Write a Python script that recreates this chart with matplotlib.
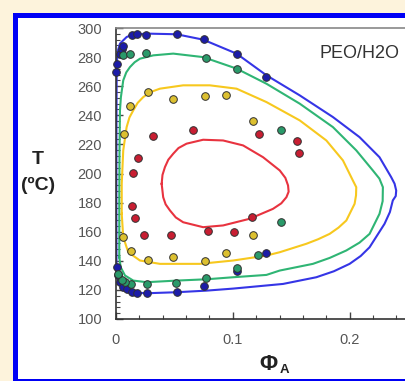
import matplotlib
matplotlib.use('Agg')
import matplotlib.pyplot as plt
from matplotlib.patches import Rectangle
from matplotlib.ticker import MultipleLocator

# binodal curves (phi_A, T), traced around each closed loop
blue_curve_x = [0.002, 0.0004, 0.0003, 0.0004, 0.0006, 0.0017, 0.0034, 0.0091, 0.0148, 0.0291, 0.0519,
                0.0746, 0.1032, 0.1288, 0.1573, 0.1857, 0.2085, 0.2256, 0.2356, 0.2385, 0.2399, 0.2395,
                0.237, 0.2345, 0.2299, 0.2171, 0.2095, 0.2, 0.1865, 0.1715, 0.143, 0.1003, 0.0775,
                0.0519, 0.0262, 0.0148, 0.0062, 0.002]
blue_curve_T = [126.4, 138.1, 181.5, 236.5, 275.5, 284.7, 289.3, 293.8, 295.7, 296.1, 295.7,
                292.0, 282.4, 267.5, 253.7, 238.8, 225.0, 211.2, 197.5, 193.0, 188.3, 184.5,
                181.5, 173.5, 165.4, 149.3, 143.3, 137.9, 132.8, 128.7, 124.1, 120.9, 119.5,
                118.4, 117.7, 118.2, 120.7, 126.4]

green_curve_x = [0.0028, 0.0028, 0.003, 0.0034, 0.0042, 0.0062, 0.0088, 0.012, 0.016, 0.0205, 0.0319,
                 0.049, 0.0746, 0.1032, 0.1288, 0.1573, 0.1857, 0.2057, 0.2199, 0.2255, 0.2285,
                 0.2283, 0.2256, 0.2171, 0.2085, 0.1972, 0.183, 0.1686, 0.1402, 0.1288, 0.1003,
                 0.0775, 0.0519, 0.0262, 0.0148, 0.0077, 0.004, 0.0028]
green_curve_T = [142.4, 181.5, 215.9, 243.4, 252.5, 264.0, 269.5, 273.2, 276.5, 278.9, 281.2,
                 282.4, 280.0, 272.1, 261.7, 248.0, 231.9, 215.9, 202.1, 196.5, 190.6,
                 181.0, 172.3, 158.5, 152.5, 147.1, 142.0, 137.9, 133.3, 130.3, 128.7,
                 127.3, 126.4, 125.3, 126.4, 129.9, 135.6, 142.4]

yellow_curve_x = [0.0049, 0.0049, 0.0062, 0.0091, 0.0115, 0.0148, 0.0185, 0.0233, 0.029, 0.0376,
                  0.0575, 0.0803, 0.1032, 0.1288, 0.1573, 0.1801, 0.1943, 0.2028, 0.2057, 0.2055,
                  0.2043, 0.1972, 0.1905, 0.1829, 0.173, 0.163, 0.1402, 0.1288, 0.1003, 0.0718,
                  0.0376, 0.0205, 0.0105, 0.0062, 0.0049]
yellow_curve_T = [172.3, 192.9, 215.9, 231.9, 238.5, 243.4, 248.5, 252.5, 255.8, 258.3,
                  260.6, 260.6, 258.3, 249.1, 236.5, 222.7, 209.0, 195.2, 190.6, 185.0,
                  179.2, 167.7, 162.8, 158.5, 154.8, 151.7, 145.9, 143.6, 140.2, 137.9,
                  137.9, 140.2, 145.9, 156.2, 172.3]

red_curve_x = [0.0391, 0.0398, 0.0419, 0.0448, 0.049, 0.0535, 0.0604, 0.0746, 0.0917, 0.1088, 0.1259,
               0.1402, 0.145, 0.1473, 0.1478, 0.1459, 0.1415, 0.1344, 0.1145, 0.0917, 0.0746,
               0.0575, 0.0512, 0.0462, 0.0425, 0.0404, 0.0391]
red_curve_T = [192.9, 199.0, 204.4, 209.5, 213.6, 217.5, 220.5, 223.2, 222.7, 219.3, 211.2,
               202.1, 197.0, 191.8, 187.5, 183.7, 179.5, 175.7, 168.9, 164.3, 163.1,
               166.5, 169.8, 174.6, 178.8, 183.7, 192.9]

# measured cloud points
blue_pts_x = [0.0, 0.001, 0.0034, 0.0049, 0.0062, 0.0134, 0.0177, 0.0257, 0.052, 0.0757, 0.1034, 0.1283,
              0.0005, 0.002, 0.0034, 0.0062, 0.0091, 0.0134, 0.0177, 0.0262, 0.0523, 0.0757, 0.1034, 0.1283]
blue_pts_T = [269.7, 275.5, 282.4, 285.8, 287.4, 295.0, 295.7, 295.5, 295.7, 292.2, 282.3, 266.3,
              135.6, 129.9, 125.3, 121.8, 120.7, 118.9, 118.0, 118.0, 118.9, 122.5, 132.8, 145.4]

green_pts_x = [0.0063, 0.012, 0.0254, 0.0769, 0.1034, 0.1414, 0.1414, 0.122, 0.1034, 0.0769, 0.0511,
               0.0262, 0.0127, 0.0077, 0.0048, 0.002]
green_pts_T = [281.2, 282.4, 283.1, 279.4, 271.6, 230.0, 166.5, 144.3, 135.2, 128.0, 124.6,
               124.1, 124.1, 125.3, 126.9, 131.0]

yellow_pts_x = [0.0277, 0.0491, 0.0763, 0.0943, 0.0122, 0.0069, 0.1177, 0.1171, 0.0062, 0.0126,
                0.0277, 0.0485, 0.0763, 0.0943]
yellow_pts_T = [256.0, 251.0, 253.0, 253.7, 246.3, 227.3, 236.0, 157.8, 156.2, 146.4,
                140.7, 142.9, 140.2, 145.4]

red_pts_x = [0.0663, 0.0314, 0.1226, 0.1549, 0.1569, 0.0191, 0.0149, 0.0137, 0.0163, 0.024, 0.0471,
             0.0786, 0.1014, 0.1163]
red_pts_T = [229.6, 226.1, 227.3, 222.2, 214.0, 210.6, 200.2, 177.5, 169.5, 158.0, 157.6,
             160.8, 159.6, 170.4]

plt.rcParams['font.family'] = ['Liberation Sans', 'DejaVu Sans']

fig = plt.figure(figsize=(4.06, 3.81), dpi=100)
fig.patch.set_facecolor('#fdf3dc')

# blue frame around the panel
frame = Rectangle((14.8 / 406, -0.0013), 0.998, 0.9625, transform=fig.transFigure,
                  facecolor='white', edgecolor='#0000f5', linewidth=3.6, zorder=-5)
fig.patches.append(frame)

ax = fig.add_axes([116 / 406, 62 / 381, 292 / 406, 291 / 381])
ax.set_zorder(2)
ax.set_facecolor('white')

line_colors = ['#3535e6', '#2fb574', '#f7c81e', '#e8333f']
pt_colors = ['#1c1ca8', '#2a9a6a', '#dcc030', '#c81e32']

ax.plot(blue_curve_x, blue_curve_T, color=line_colors[0], lw=1.5, zorder=2)
ax.plot(green_curve_x, green_curve_T, color=line_colors[1], lw=1.5, zorder=2)
ax.plot(yellow_curve_x, yellow_curve_T, color=line_colors[2], lw=1.5, zorder=2)
ax.plot(red_curve_x, red_curve_T, color=line_colors[3], lw=1.5, zorder=2)

mk = dict(ls='none', marker='o', ms=5.5, mec='#303030', mew=0.7, zorder=3, clip_on=False)
ax.plot(blue_pts_x, blue_pts_T, mfc=pt_colors[0], **mk)
ax.plot(green_pts_x, green_pts_T, mfc=pt_colors[1], **mk)
ax.plot(yellow_pts_x, yellow_pts_T, mfc=pt_colors[2], **mk)
ax.plot(red_pts_x, red_pts_T, mfc=pt_colors[3], **mk)

ax.set_xlim(0, 0.25)
ax.set_ylim(100, 300)
ax.set_xticks([0, 0.1, 0.2])
ax.set_xticklabels(['0', '0.1', '0.2'])
ax.xaxis.set_minor_locator(MultipleLocator(0.02))
ax.yaxis.set_major_locator(MultipleLocator(20))
ax.yaxis.set_minor_locator(MultipleLocator(4))
ax.tick_params(which='both', direction='in', top=False, right=False, colors='#444444',
               labelsize=10.5, pad=10)
ax.tick_params(which='major', length=5, width=1)
ax.tick_params(which='minor', length=3, width=0.8)
for lab in ax.get_xticklabels() + ax.get_yticklabels():
    lab.set_color('#555555')

ax.spines['left'].set_color('#333333')
ax.spines['bottom'].set_color('#333333')
ax.spines['top'].set_color('#888888')
ax.spines['left'].set_linewidth(1.2)
ax.spines['bottom'].set_linewidth(1.2)
ax.spines['top'].set_linewidth(1.2)
ax.spines['right'].set_visible(False)

ax.text(0.835, 0.913, 'PEO/H2O', transform=ax.transAxes, ha='center', va='center',
        fontsize=13, color='#333333')

fig.text(38 / 406, 1 - 160 / 381, 'T', ha='center', va='center', fontsize=14,
         fontweight='bold', color='#222222')
fig.text(38 / 406, 1 - 185 / 381, '(\u00baC)', ha='center', va='center', fontsize=14,
         fontweight='bold', color='#222222')
fig.text(268 / 406, 1 - 365 / 381, '\u03a6', ha='center', va='center', fontsize=16,
         fontweight='bold', color='#222222')
fig.text(284 / 406, 1 - 370 / 381, 'A', ha='center', va='center', fontsize=9.5,
         fontweight='bold', color='#222222')

plt.savefig('out.png', dpi=100, facecolor=fig.get_facecolor())
